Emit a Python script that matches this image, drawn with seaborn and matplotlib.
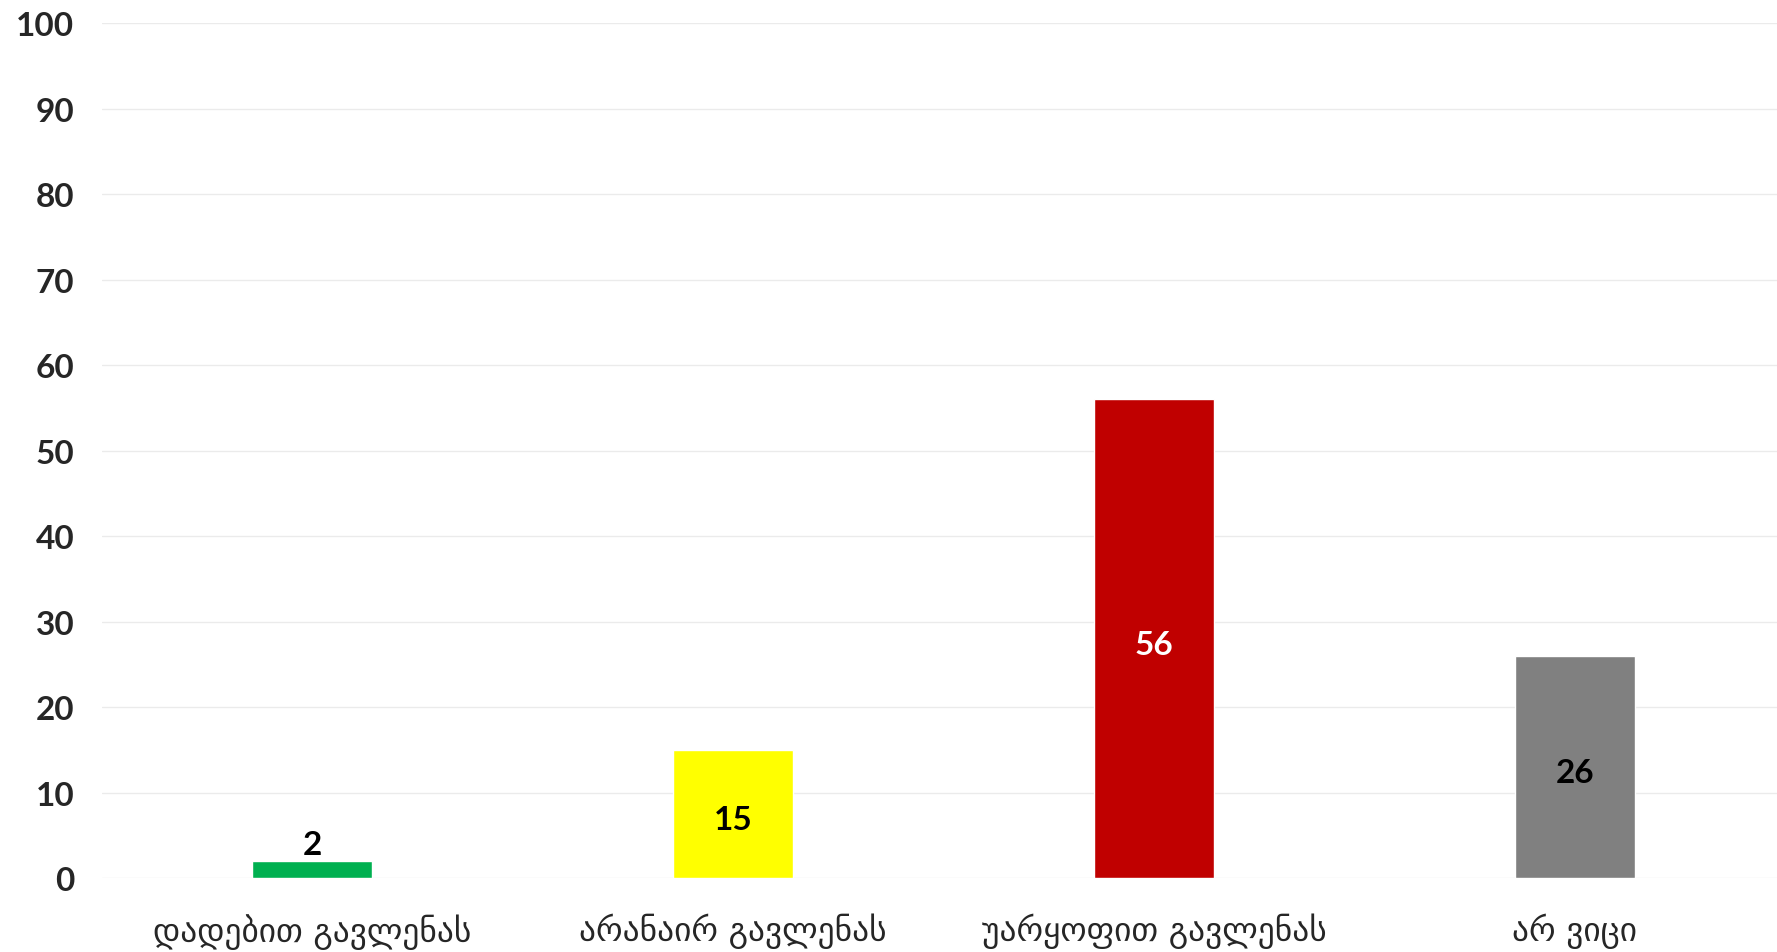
import matplotlib
matplotlib.use("Agg")
import matplotlib.pyplot as plt
import seaborn as sns
import pandas as pd

# data
categories = ["დადებით გავლენას", "არანაირ გავლენას", "უარყოფით გავლენას", "არ ვიცი"]
values = [2, 15, 56, 26]
colors = ["#00B050", "#FFFF00", "#C00000", "#808080"]
label_colors = ["black", "black", "white", "black"]

df = pd.DataFrame({"category": categories, "value": values})

sns.set_style("white")
plt.rcParams["font.family"] = ["Lato", "DejaVu Sans"]

fig = plt.figure(figsize=(17.77, 9.53), dpi=100)
ax = fig.add_axes([0.0574, 0.0776, 0.9426, 0.8972])

sns.barplot(data=df, x="category", y="value", hue="category", palette=colors,
            width=0.285, legend=False, ax=ax, saturation=1)

ax.set_ylim(0, 100)
ax.set_xlim(-0.5, 3.48)
ax.set_yticks(range(0, 101, 10))
ax.yaxis.grid(True, color="#ebebeb", linewidth=1)
ax.set_axisbelow(True)
for s in ax.spines.values():
    s.set_visible(False)
ax.tick_params(length=0)
ax.set_xlabel("")
ax.set_ylabel("")

for lbl in ax.get_yticklabels():
    lbl.set_fontsize(24)
    lbl.set_fontweight("bold")
ax.tick_params(axis="y", pad=20)
ax.set_xticks(range(len(categories)))
ax.set_xticklabels(categories, family="DejaVu Sans", fontsize=24)
ax.tick_params(axis="x", pad=25)

# value labels
for i, (v, c) in enumerate(zip(values, label_colors)):
    if v < 5:
        ax.text(i, v + 0.8, str(v), ha="center", va="baseline", fontsize=24,
                fontweight="bold", color=c)
    else:
        ax.text(i, v / 2 - 0.7, str(v), ha="center", va="center", fontsize=24,
                fontweight="bold", color=c)

fig.savefig("out.png", dpi=100)
